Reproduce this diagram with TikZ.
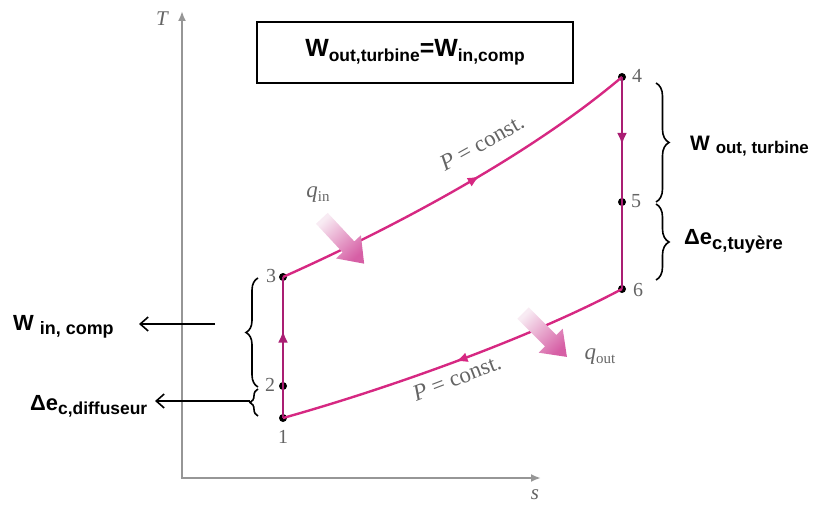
\documentclass[tikz,border=0pt]{standalone}
\usepackage{fontspec}
\setmainfont{Liberation Serif}
\newfontfamily\arialf{Liberation Sans}
\usetikzlibrary{arrows.meta,decorations.pathreplacing,decorations.markings}
\definecolor{curvepink}{RGB}{214,40,130}
\definecolor{vertmag}{RGB}{170,30,115}
\definecolor{axisgrey}{RGB}{150,150,150}
\definecolor{lblgrey}{RGB}{100,100,100}
\definecolor{heatdark}{RGB}{214,95,165}
\definecolor{heatlight}{RGB}{248,235,243}
\begin{document}
\begin{tikzpicture}[x=1bp,y=-1bp,
  ptdot/.style={circle,fill=black,inner sep=0pt,minimum size=8bp},
  cyc/.style={line width=2.4bp,draw=curvepink},
  vcyc/.style={line width=2.4bp,draw=vertmag},
  midarrow/.style={postaction={decorate},decoration={markings,mark=at position #1 with {\arrow{Latex[length=12bp,width=10bp]}}}},
  numlbl/.style={font=\fontsize{20}{20}\selectfont, text=lblgrey, inner sep=1bp},
  curvelbl/.style={font=\fontsize{23}{23}\selectfont, text=lblgrey, inner sep=0pt},
  boldlbl/.style={inner sep=0pt, anchor=base west},
  bracestyle/.style={decorate,decoration={brace,amplitude=#1},line width=1.6bp},
  leftarrow/.style={line width=1.6bp,-{Straight Barb[length=8bp,width=14bp,line width=1.6bp]}},
  axisline/.style={line width=2.4bp,draw=axisgrey,-{Latex[length=10bp,width=8bp]}},
  heat/.style={top color=heatlight, bottom color=heatdark, draw=none},
]
\useasboundingbox (0,0) rectangle (819,506);

% axes
\coordinate (origin) at (182,478);
\coordinate (ytop) at (182,11);
\coordinate (xend) at (541,478);
\draw[axisline] (origin) -- (ytop);
\draw[axisline] ([xshift=-1.2bp]origin) -- (xend);
\node[text=lblgrey, font=\fontsize{21}{21}\selectfont\itshape] (tlbl) at (162,19) {T};
\node[text=lblgrey, font=\fontsize{21}{21}\selectfont\itshape] (slbl) at (535,495) {s};

% box
\node[draw, line width=2bp, minimum width=316bp, minimum height=61bp, inner sep=0pt] (box) at (415,52.5)
  {\arialf\bfseries\fontsize{25}{25}\selectfont W\fontsize{17.5}{17.5}\selectfont\raisebox{-5bp}{out,turbine}\fontsize{25}{25}\selectfont=W\fontsize{17.5}{17.5}\selectfont\raisebox{-5bp}{in,comp}};

% state points
\node[ptdot] (p1) at (283,418) {};
\node[ptdot] (p2) at (283,386) {};
\node[ptdot] (p3) at (283,277) {};
\node[ptdot] (p4) at (622,77) {};
\node[ptdot] (p5) at (622,202) {};
\node[ptdot] (p6) at (622,289) {};

% cycle
\draw[cyc, midarrow=0.56] (p3.center) .. controls (395,227) and (530,155) .. (p4.center);
\draw[cyc, midarrow=0.5] (p6.center) .. controls (530,338) and (390,388) .. (p1.center);
\draw[vcyc, midarrow=0.62] (p1.center) -- (p3.center);
\draw[vcyc, midarrow=0.32] (p4.center) -- (p6.center);

% point labels
\node[numlbl] (n1) at (283,437) {1};
\node[numlbl] (n2) at (270,385) {2};
\node[numlbl] (n3) at (271,276) {3};
\node[numlbl] (n4) at (637,76) {4};
\node[numlbl] (n5) at (636,201) {5};
\node[numlbl] (n6) at (638,290) {6};

% curve labels
\node[curvelbl, rotate=29] (pc1) at (482,143) {\itshape P\upshape\ = const.};
\node[curvelbl, rotate=21] (pc2) at (457,378) {\itshape P\upshape\ = const.};

% heat arrows
\begin{scope}[shift={(343,241)}, rotate=-47]
  \shade[heat, shading angle=43] (-31,-8) -- (8,-8) -- (8,-17) -- (31,0) -- (8,17) -- (8,8) -- (-31,8) -- cycle;
\end{scope}
\begin{scope}[shift={(545,335)}, rotate=-45]
  \shade[heat, shading angle=44] (-31,-8) -- (8,-8) -- (8,-17) -- (31,0) -- (8,17) -- (8,8) -- (-31,8) -- cycle;
\end{scope}
\node[text=lblgrey, inner sep=0pt] (qin) at (318,195)
  {\fontsize{23}{23}\selectfont\itshape q\upshape\fontsize{15}{15}\selectfont\raisebox{-4bp}{in}};
\node[text=lblgrey, inner sep=0pt] (qout) at (600,357)
  {\fontsize{23}{23}\selectfont\itshape q\upshape\fontsize{15}{15}\selectfont\raisebox{-4bp}{out}};

% right braces
\coordinate (rb1a) at (656,83);
\coordinate (rb1b) at (656,202);
\coordinate (rb2a) at (656,204);
\coordinate (rb2b) at (656,280);
\draw[bracestyle=13bp] (rb1a) -- (rb1b);
\draw[bracestyle=13bp] (rb2a) -- (rb2b);
\node[boldlbl] (wout) at (690,151)
  {\arialf\bfseries\fontsize{21}{21}\selectfont W \fontsize{17}{17}\selectfont\raisebox{-3bp}{out, turbine}};
\node[boldlbl] (dtuy) at (684,245)
  {\arialf\bfseries\fontsize{22}{22}\selectfont Δe\fontsize{18.5}{18.5}\selectfont\raisebox{-5bp}{c,tuyère}};

% left braces
\coordinate (lb1a) at (258,387);
\coordinate (lb1b) at (258,278);
\coordinate (lb2a) at (258,416);
\coordinate (lb2b) at (258,389);
\draw[bracestyle=12bp] (lb1a) -- (lb1b);
\draw[bracestyle=8bp] (lb2a) -- (lb2b);
\node[boldlbl] (win) at (13,330)
  {\arialf\bfseries\fontsize{22}{22}\selectfont W \fontsize{18}{18}\selectfont\raisebox{-4bp}{in, comp}};
\node[boldlbl] (ddif) at (30,410)
  {\arialf\bfseries\fontsize{22}{22}\selectfont Δe\fontsize{17.5}{17.5}\selectfont\raisebox{-4bp}{c,diffuseur}};
\coordinate (a1s) at (215,324);
\coordinate (a1e) at (139,324);
\coordinate (a2s) at (250,401);
\coordinate (a2e) at (155,401);
\draw[leftarrow] (a1s) -- (a1e);
\draw[leftarrow] (a2s) -- (a2e);
\end{tikzpicture}
\end{document}
